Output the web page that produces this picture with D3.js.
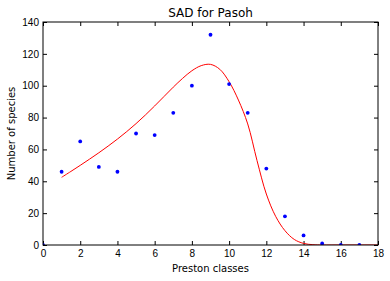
<!DOCTYPE html>
<html>
<head>
<meta charset="utf-8">
<script src="https://cdn.jsdelivr.net/npm/d3@7"></script>
<style>
  body { margin: 0; background: #fff; }
  svg { display: block; font-family: "DejaVu Sans", sans-serif; }
</style>
</head>
<body>
<svg id="chart" width="390" height="281"></svg>
<script>
// observed species per Preston class
const classes = [0, 1, 2, 3, 4, 5, 6, 7, 8, 9, 10, 11, 12, 13, 14, 15, 16, 17]
const species = [0, 46, 65, 49, 46, 70, 69, 83, 100, 132, 101, 83, 48, 18, 6, 1, 0, 0]

// fitted curve
const fitX = [1, 1.5, 2, 2.5, 3, 3.5, 4, 4.5, 5, 5.5, 6, 6.5, 7, 7.5, 8, 8.5, 9, 9.5,
              10, 10.5, 11, 11.5, 12, 12.5, 13, 13.5, 14, 14.5, 15, 16, 17, 18]
const fitY = [42.5, 46.2, 50, 53.9, 57.9, 62.1, 66.5, 71.2, 76.2, 81.6, 87.3, 93.2, 99.1, 104.6, 109.4, 112.6, 113.4, 110.3,
              102.5, 91, 76, 53, 32, 18, 9, 3.5, 1, 0.2, 0, 0, 0, 0]

const xTicks = [0, 2, 4, 6, 8, 10, 12, 14, 16, 18]
const yTicks = [0, 20, 40, 60, 80, 100, 120, 140]

const margin = {left: 43, top: 22, right: 12, bottom: 36}
const width = 390, height = 281
const svg = d3.select("#chart")

const x = d3.scaleLinear().domain([0, 18]).range([margin.left, width - margin.right])
const y = d3.scaleLinear().domain([0, 140]).range([height - margin.bottom, margin.top])

svg.append("clipPath").attr("id", "plot")
  .append("rect")
    .attr("x", x(0)).attr("y", y(140))
    .attr("width", x(18) - x(0)).attr("height", y(0) - y(140))

// axes with inward ticks on all four sides
function styleAxis(g, labels) {
  g.select(".domain").remove()
  g.selectAll("line").attr("stroke", "#000")
  g.selectAll("text").attr("fill", "#000").style("font-size", "10px")
  if (!labels) g.selectAll("text").remove()
}

svg.append("g").attr("transform", `translate(0,${y(0)})`)
  .call(d3.axisBottom(x).tickValues(xTicks).tickSizeInner(-4).tickSizeOuter(0).tickPadding(5))
  .call(g => styleAxis(g, true))
svg.append("g").attr("transform", `translate(0,${y(140)})`)
  .call(d3.axisTop(x).tickValues(xTicks).tickSizeInner(-4).tickSizeOuter(0))
  .call(g => styleAxis(g, false))
svg.append("g").attr("transform", `translate(${x(0)},0)`)
  .call(d3.axisLeft(y).tickValues(yTicks).tickSizeInner(-4).tickSizeOuter(0).tickPadding(4))
  .call(g => styleAxis(g, true))
svg.append("g").attr("transform", `translate(${x(18)},0)`)
  .call(d3.axisRight(y).tickValues(yTicks).tickSizeInner(-4).tickSizeOuter(0))
  .call(g => styleAxis(g, false))

const plot = svg.append("g").attr("clip-path", "url(#plot)")

const line = d3.line()
  .x((d, i) => x(fitX[i]))
  .y(d => y(d))
  .curve(d3.curveCatmullRom.alpha(0.5))

plot.append("path")
  .datum(fitY)
  .attr("fill", "none")
  .attr("stroke", "#ff0000")
  .attr("stroke-width", 1)
  .attr("d", line)

plot.selectAll("circle")
  .data(species)
  .enter()
  .append("circle")
    .attr("cx", (d, i) => x(classes[i]))
    .attr("cy", d => y(d))
    .attr("r", 1.9)
    .attr("fill", "#0000ff")

// frame
svg.append("rect")
  .attr("x", x(0)).attr("y", y(140))
  .attr("width", x(18) - x(0)).attr("height", y(0) - y(140))
  .attr("fill", "none").attr("stroke", "#000").attr("stroke-width", 1)

svg.append("text")
  .attr("x", (x(0) + x(18)) / 2).attr("y", 17)
  .attr("text-anchor", "middle")
  .style("font-size", "12px")
  .text("SAD for Pasoh")

svg.append("text")
  .attr("x", (x(0) + x(18)) / 2).attr("y", 272)
  .attr("text-anchor", "middle")
  .style("font-size", "10px")
  .text("Preston classes")

svg.append("text")
  .attr("transform", `translate(15,${(y(0) + y(140)) / 2}) rotate(-90)`)
  .attr("text-anchor", "middle")
  .style("font-size", "10px")
  .text("Number of species")
</script>
</body>
</html>
